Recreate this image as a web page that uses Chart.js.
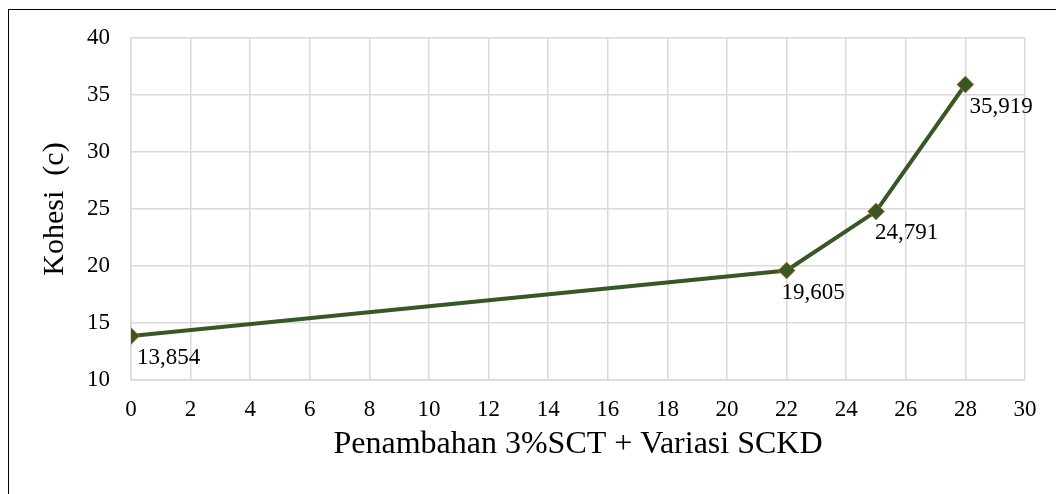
<!DOCTYPE html>
<html>
<head>
<meta charset="utf-8">
<script src="https://cdn.jsdelivr.net/npm/chart.js@4/dist/chart.umd.min.js"></script>
<style>
  html, body { margin: 0; padding: 0; background: #fff; }
  .wrap { position: relative; width: 1056px; height: 494px; overflow: hidden; }
  .frame { position: absolute; left: 8px; top: 9px; right: -10px; bottom: -10px;
           border-left: 1.5px solid #000; border-top: 1.5px solid #000; pointer-events: none; }
  canvas { position: absolute; left: 0; top: 0; }
</style>
</head>
<body>
<div class="wrap">
  <canvas id="chart" width="1056" height="494"></canvas>
  <div class="frame"></div>
</div>
<script>
  // Kohesi vs. penambahan SCKD
  const xValues = [0, 22, 25, 28];
  const kohesi = [13.854, 19.605, 24.791, 35.919];
  const valueLabels = ['13,854', '19,605', '24,791', '35,919'];

  const SERIF = '"Liberation Serif", "Times New Roman", serif';
  const GREEN = '#385723';
  const GRID = '#d9d9d9';

  // Draws the value text under each marker
  const pointLabels = {
    id: 'pointLabels',
    afterDatasetsDraw(chart, args, opts) {
      const { ctx } = chart;
      const meta = chart.getDatasetMeta(0);
      ctx.save();
      ctx.font = `${opts.size}px ${SERIF}`;
      ctx.fillStyle = '#000';
      ctx.textAlign = 'left';
      ctx.textBaseline = 'alphabetic';
      meta.data.forEach((pt, i) => {
        const dx = opts.dx[i] || 0;
        ctx.fillText(opts.labels[i], pt.x + dx, pt.y + opts.dy);
      });
      ctx.restore();
    }
  };

  new Chart(document.getElementById('chart'), {
    type: 'line',
    data: {
      datasets: [{
        data: xValues.map((x, i) => ({ x, y: kohesi[i] })),
        borderColor: GREEN,
        borderWidth: 4,
        pointStyle: 'rectRot',
        pointRadius: 8.5,
        pointBackgroundColor: GREEN,
        pointBorderColor: 'rgba(220,120,40,0.55)',
        pointBorderWidth: 1,
        tension: 0,
        fill: false
      }]
    },
    options: {
      responsive: false,
      animation: false,
      layout: { padding: { left: 0, top: 38, right: 31, bottom: 0 } },
      plugins: {
        legend: { display: false },
        tooltip: { enabled: false },
        pointLabels: { labels: valueLabels, size: 23, dx: [6, -5, -1, 4], dy: 28 }
      },
      scales: {
        x: {
          type: 'linear',
          min: 0, max: 30,
          afterFit: (s) => { s.height = 114; },
          ticks: { stepSize: 2, padding: 16, color: '#000', font: { family: SERIF, size: 23 } },
          grid: { color: GRID, lineWidth: 1.5, drawTicks: false },
          border: { color: GRID, width: 1.5 },
          title: {
            display: true,
            text: 'Penambahan 3%SCT + Variasi SCKD',
            color: '#000',
            font: { family: SERIF, size: 32 },
            padding: { top: 0, bottom: 30 }
          }
        },
        y: {
          min: 10, max: 40,
          afterFit: (s) => { s.width = 131; },
          ticks: { stepSize: 5, padding: 21, color: '#000', font: { family: SERIF, size: 23 } },
          grid: { color: GRID, lineWidth: 1.5, drawTicks: false },
          border: { color: GRID, width: 1.5 },
          title: {
            display: true,
            text: 'Kohesi  (c)',
            color: '#000',
            font: { family: SERIF, size: 30 },
            padding: { top: 37, bottom: 0 }
          }
        }
      }
    },
    plugins: [pointLabels]
  });
</script>
</body>
</html>
